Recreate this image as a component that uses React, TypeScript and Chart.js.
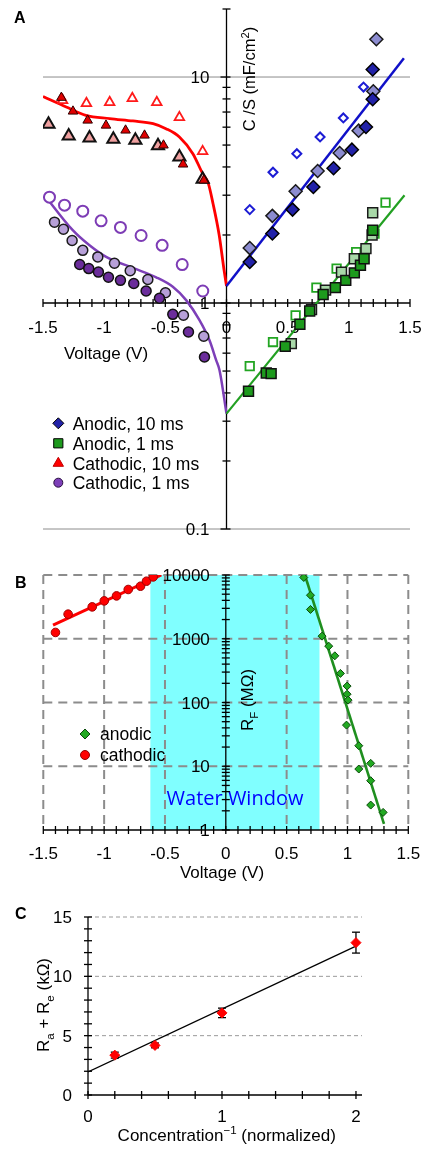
import React, { useEffect, useRef } from 'react';
import { Chart, registerables } from 'chart.js';

Chart.register(...registerables);

const FONT = '"Liberation Sans", Arial, Helvetica, sans-serif';

// ---------------- Panel A : C/S vs voltage ----------------
const A_X_TICKS = [-1.5, -1, -0.5, 0, 0.5, 1, 1.5];
const A_X_LABELS = ['-1.5', '-1', '-0.5', '0', '0.5', '1', '1.5'];
const A_Y_TICKS = [10, 1, 0.1];
const A_Y_LABELS = ['10', '1', '0.1'];
const A_Y_GRID = [10, 0.1];
const A_Y_DECADES = [0.1, 1, 10];

// Anodic, 10 ms (blue diamonds)
const AN10_OPEN_V = [0.19, 0.38, 0.575, 0.765, 0.955, 1.12];
const AN10_OPEN_C = [2.59, 3.79, 4.58, 5.43, 6.59, 9.03];
const AN10_DARK_V = [0.19, 0.375, 0.54, 0.71, 0.875, 1.025, 1.14, 1.195, 1.195];
const AN10_DARK_C = [1.52, 2.03, 2.59, 3.26, 3.95, 4.77, 6.01, 7.97, 10.8];
const AN10_LIGHT_V = [0.19, 0.375, 0.565, 0.745, 0.925, 1.08, 1.2, 1.225];
const AN10_LIGHT_C = [1.75, 2.43, 3.12, 3.84, 4.61, 5.79, 8.65, 14.7];
const AN10_FIT_V = [0, 1.45];
const AN10_FIT_C = [1.19, 12.1];

// Anodic, 1 ms (green squares)
const AN1_OPEN_V = [0.19, 0.38, 0.565, 0.735, 0.9, 1.06, 1.21, 1.3];
const AN1_OPEN_C = [0.526, 0.672, 0.882, 1.17, 1.42, 1.68, 2.03, 2.78];
const AN1_DARK_V = [0.18, 0.325, 0.365, 0.48, 0.6, 0.68, 0.79, 0.89, 0.975, 1.045, 1.095, 1.125, 1.195];
const AN1_DARK_C = [0.407, 0.49, 0.487, 0.643, 0.805, 0.922, 1.09, 1.17, 1.26, 1.36, 1.47, 1.57, 2.1];
const AN1_LIGHT_V = [0.53, 0.695, 0.81, 0.94, 1.045, 1.14, 1.19, 1.195];
const AN1_LIGHT_C = [0.661, 0.935, 1.14, 1.37, 1.57, 1.74, 2.0, 2.51];
const AN1_FIT_V = [0, 1.455];
const AN1_FIT_C = [0.324, 3.0];

// Cathodic, 10 ms (red triangles)
const CA10_OPEN_V = [-1.34, -1.145, -0.955, -0.77, -0.57, -0.385, -0.195];
const CA10_OPEN_C = [7.89, 7.65, 7.73, 8.05, 7.73, 6.63, 4.69];
const CA10_DARK_V = [-1.35, -1.255, -1.135, -0.985, -0.825, -0.67, -0.515, -0.355, -0.185];
const CA10_DARK_C = [8.11, 7.05, 6.43, 6.11, 5.81, 5.52, 4.99, 4.11, 3.49];
const CA10_LIGHT_V = [-1.455, -1.29, -1.12, -0.925, -0.745, -0.56, -0.385, -0.195];
const CA10_LIGHT_C = [6.18, 5.48, 5.37, 5.3, 5.25, 4.97, 4.43, 3.53];
const CA10_FIT_V = [-1.5, -1.31, -1.15, -0.955, -0.765, -0.6, -0.495, -0.385, -0.275, -0.195, -0.15, -0.11, -0.06, -0.02, 0];
const CA10_FIT_C = [8.2, 7.37, 6.77, 6.55, 6.39, 6.22, 5.91, 5.43, 4.58, 3.74, 3.4, 2.75, 2.0, 1.4, 1.19];

// Cathodic, 1 ms (purple circles)
const CA1_OPEN_V = [-1.447, -1.324, -1.175, -1.025, -0.867, -0.698, -0.526, -0.362, -0.194];
const CA1_OPEN_C = [2.94, 2.71, 2.55, 2.31, 2.16, 1.99, 1.8, 1.48, 1.13];
const CA1_DARK_V = [-1.2, -1.126, -1.047, -0.965, -0.867, -0.758, -0.657, -0.548, -0.439, -0.311, -0.18];
const CA1_DARK_C = [1.48, 1.42, 1.37, 1.3, 1.26, 1.22, 1.13, 1.05, 0.891, 0.744, 0.577];
const CA1_LIGHT_V = [-1.406, -1.333, -1.262, -1.175, -1.052, -0.916, -0.787, -0.643, -0.499, -0.352, -0.186];
const CA1_LIGHT_C = [2.28, 2.12, 1.89, 1.71, 1.6, 1.5, 1.39, 1.27, 1.11, 0.883, 0.713];
const CA1_FIT_V = [-1.488, -1.257, -1.12, -0.984, -0.766, -0.575, -0.439, -0.33, -0.221, -0.139, -0.084, -0.057, 0];
const CA1_FIT_C = [3.0, 2.1, 1.8, 1.6, 1.43, 1.3, 1.18, 1.03, 0.84, 0.684, 0.557, 0.504, 0.324];

const A_LEGEND = ['Anodic, 10 ms', 'Anodic, 1 ms', 'Cathodic, 10 ms', 'Cathodic, 1 ms'];

// ---------------- Panel B : R_F vs voltage ----------------
const B_X_TICKS = [-1.5, -1, -0.5, 0, 0.5, 1, 1.5];
const B_X_LABELS = ['-1.5', '-1', '-0.5', '0', '0.5', '1', '1.5'];
const B_Y_TICKS = [10000, 1000, 100, 10, 1];
const B_Y_LABELS = ['10000', '1000', '100', '10', '1'];
const B_Y_DECADES = [1, 10, 100, 1000];
const B_WINDOW = [-0.62, 0.77];

const B_CATH_V = [-1.4, -1.296, -1.098, -0.999, -0.898, -0.802, -0.701, -0.652, -0.597];
const B_CATH_R = [1256, 2430, 3162, 3926, 4700, 5925, 6670, 7990, 9340];
const B_CATH_FIT_V = [-1.42, -0.53];
const B_CATH_FIT_R = [1630, 10000];
const B_AN_V = [0.641, 0.696, 0.696, 0.791, 0.846, 0.896, 0.942, 0.997, 0.997, 1.005, 0.992, 1.093, 1.093, 1.191, 1.191, 1.191, 1.293];
const B_AN_R = [9140, 4820, 2880, 1099, 765, 540, 286, 181, 135, 109, 44.2, 21.0, 9.04, 11.1, 5.93, 2.46, 1.89];
const B_AN_FIT_V = [0.65, 1.3];
const B_AN_FIT_R = [10000, 1.25];
const B_LEGEND = ['anodic', 'cathodic'];

// ---------------- Panel C : Ra + Re vs 1/concentration ----------------
const C_X_TICKS = [0, 1, 2];
const C_X_LABELS = ['0', '1', '2'];
const C_Y_TICKS = [0, 5, 10, 15];
const C_Y_LABELS = ['0', '5', '10', '15'];
const C_Y_GRID = [5, 10, 15];
const C_X = [0.2, 0.5, 1, 2];
const C_Y = [3.36, 4.18, 6.92, 12.84];
const C_ERR = [0.25, 0.2, 0.4, 0.88];
const C_FIT_X = [0, 2];
const C_FIT_Y = [1.95, 12.55];

// ---------------- helpers ----------------
type Part = [string, number]; // 0 normal, 1 subscript, 2 superscript

function pts(xs: number[], ys: number[]) {
  return xs.map((x, i) => ({ x, y: ys[i] }));
}

function markers(label: string, xs: number[], ys: number[], style: string, r: number, fill: string, stroke: string, lw: number) {
  return {
    label,
    data: pts(xs, ys),
    showLine: false,
    pointStyle: style,
    pointRadius: r,
    pointBackgroundColor: fill,
    pointBorderColor: stroke,
    pointBorderWidth: lw,
    backgroundColor: fill,
    borderColor: stroke,
    order: 1,
  };
}

function curve(label: string, xs: number[], ys: number[], color: string, width: number, smooth: boolean) {
  return {
    label,
    data: pts(xs, ys),
    showLine: true,
    pointRadius: 0,
    borderColor: color,
    backgroundColor: color,
    borderWidth: width,
    tension: smooth ? 0.4 : 0,
    cubicInterpolationMode: smooth ? 'monotone' : 'default',
    fill: false,
    order: 5,
  };
}

function seg(ctx: CanvasRenderingContext2D, x1: number, y1: number, x2: number, y2: number) {
  ctx.beginPath();
  ctx.moveTo(x1, y1);
  ctx.lineTo(x2, y2);
  ctx.stroke();
}

function text(ctx: CanvasRenderingContext2D, s: string, x: number, y: number, align: CanvasTextAlign, size: number, color = '#000', family = FONT, weight = '') {
  ctx.save();
  ctx.font = `${weight}${size}px ${family}`;
  ctx.fillStyle = color;
  ctx.textAlign = align;
  ctx.textBaseline = 'alphabetic';
  ctx.fillText(s, x, y + size * 0.36);
  ctx.restore();
}

function rich(ctx: CanvasRenderingContext2D, parts: Part[], cx: number, cy: number, size: number, rot = 0) {
  ctx.save();
  ctx.translate(cx, cy);
  if (rot) ctx.rotate(rot);
  ctx.fillStyle = '#000';
  ctx.textAlign = 'left';
  ctx.textBaseline = 'alphabetic';
  const widths = parts.map(([t, k]) => {
    ctx.font = `${k ? size * 0.68 : size}px ${FONT}`;
    return ctx.measureText(t).width;
  });
  const total = widths.reduce((a, b) => a + b, 0);
  let x = -total / 2;
  const base = size * 0.36;
  parts.forEach(([t, k], i) => {
    ctx.font = `${k ? size * 0.68 : size}px ${FONT}`;
    const dy = k === 1 ? size * 0.28 : k === 2 ? -size * 0.4 : 0;
    ctx.fillText(t, x, base + dy);
    x += widths[i];
  });
  ctx.restore();
}

function marker(ctx: CanvasRenderingContext2D, style: string, cx: number, cy: number, r: number, fill: string, stroke: string, lw: number) {
  ctx.save();
  ctx.beginPath();
  if (style === 'rectRot') {
    ctx.moveTo(cx, cy - r);
    ctx.lineTo(cx + r, cy);
    ctx.lineTo(cx, cy + r);
    ctx.lineTo(cx - r, cy);
    ctx.closePath();
  } else if (style === 'rect') {
    const s = r * Math.SQRT1_2;
    ctx.rect(cx - s, cy - s, 2 * s, 2 * s);
  } else if (style === 'triangle') {
    ctx.moveTo(cx, cy - r);
    ctx.lineTo(cx + r * 0.866, cy + r * 0.5);
    ctx.lineTo(cx - r * 0.866, cy + r * 0.5);
    ctx.closePath();
  } else {
    ctx.arc(cx, cy, r, 0, Math.PI * 2);
  }
  ctx.fillStyle = fill;
  ctx.fill();
  ctx.lineWidth = lw;
  ctx.strokeStyle = stroke;
  ctx.stroke();
  ctx.restore();
}

function logTicks(decades: number[], max: number) {
  const out: { v: number; major: boolean }[] = [];
  decades.forEach((d) => {
    for (let k = 1; k <= 9; k++) {
      const v = d * k;
      if (v <= max * 1.0001) out.push({ v, major: k === 1 });
    }
  });
  out.push({ v: decades[decades.length - 1] * 10, major: true });
  return out.filter((t) => t.v <= max * 1.0001);
}

function baseOptions(padding: any, xScale: any, yScale: any) {
  return {
    responsive: false,
    maintainAspectRatio: false,
    animation: false,
    events: [],
    layout: { padding },
    plugins: { legend: { display: false }, tooltip: { enabled: false } },
    scales: { x: { ...xScale, display: false }, y: { ...yScale, display: false } },
  };
}

// ---------------- plugins ----------------
const panelAPlugin = {
  id: 'panelA',
  beforeDatasetsDraw(chart: any) {
    const { ctx, chartArea: ca, scales } = chart;
    const x = scales.x;
    const y = scales.y;
    ctx.save();
    ctx.strokeStyle = '#8c8c8c';
    ctx.lineWidth = 1;
    A_Y_GRID.forEach((v) => {
      const py = y.getPixelForValue(v);
      seg(ctx, ca.left, py, ca.right, py);
    });
    const x0 = x.getPixelForValue(0);
    const y1 = y.getPixelForValue(1);
    ctx.strokeStyle = '#000';
    ctx.lineWidth = 1.3;
    seg(ctx, x0, ca.top, x0, ca.bottom);
    seg(ctx, ca.left, y1, ca.right, y1);
    logTicks(A_Y_DECADES, y.max).forEach((t) => {
      const py = y.getPixelForValue(t.v);
      seg(ctx, x0 - (t.major ? 6 : 4), py, x0 + 4, py);
    });
    for (let i = Math.round(x.min * 10); i <= Math.round(x.max * 10); i++) {
      const px = x.getPixelForValue(i / 10);
      seg(ctx, px, y1 - 4, px, y1 + 4);
    }
    A_Y_TICKS.forEach((v, i) => text(ctx, A_Y_LABELS[i], x0 - 17, y.getPixelForValue(v), 'right', 17));
    A_X_TICKS.forEach((v, i) => text(ctx, A_X_LABELS[i], x.getPixelForValue(v), y1 + 24, 'center', 17));
    text(ctx, 'Voltage (V)', 106, y1 + 50, 'center', 17);
    rich(ctx, [['C /S (mF/cm', 0], ['2', 2], [')', 0]], x0 + 23, y.getPixelForValue(10) + 2, 16.5, -Math.PI / 2);
    ctx.restore();
  },
  afterDraw(chart: any) {
    const { ctx } = chart;
    text(ctx, 'A', 14, 22.7 - 16 * 0.36, 'left', 16, '#000', FONT, 'bold ');
    const lx = 58.3;
    const ys = [423.3, 443.3, 463.3, 482.7];
    marker(ctx, 'rectRot', lx, ys[0], 5.5, '#2222a8', '#000', 1);
    marker(ctx, 'rect', lx, ys[1], 6.5, '#1d9a1d', '#000', 1);
    marker(ctx, 'triangle', lx, ys[2], 6, '#ff0000', '#c00000', 1);
    marker(ctx, 'circle', lx, ys[3], 4.5, '#7d3fb8', '#2a1040', 1);
    A_LEGEND.forEach((s, i) => text(ctx, s, 72.7, ys[i], 'left', 17.5));
  },
};

const panelBPlugin = {
  id: 'panelB',
  beforeDraw(chart: any) {
    const { ctx, chartArea: ca, scales } = chart;
    const x = scales.x;
    ctx.save();
    ctx.fillStyle = '#80ffff';
    const l = x.getPixelForValue(B_WINDOW[0]);
    const r = x.getPixelForValue(B_WINDOW[1]);
    ctx.fillRect(l, ca.top, r - l, ca.bottom - ca.top);
    ctx.restore();
  },
  beforeDatasetsDraw(chart: any) {
    const { ctx, chartArea: ca, scales } = chart;
    const x = scales.x;
    const y = scales.y;
    ctx.save();
    text(ctx, 'Water Window', 235, 238, 'center', 20, '#0000ff', '"Open Sans", "Noto Sans", sans-serif');
    ctx.strokeStyle = '#8c8c8c';
    ctx.lineWidth = 2;
    ctx.setLineDash([9, 6]);
    B_X_TICKS.forEach((v) => {
      if (v === 0) return;
      const px = x.getPixelForValue(v);
      seg(ctx, px, ca.top, px, ca.bottom);
    });
    B_Y_TICKS.forEach((v) => {
      if (v === 1) return;
      const py = y.getPixelForValue(v);
      seg(ctx, ca.left, py, ca.right, py);
    });
    ctx.setLineDash([]);
    const x0 = x.getPixelForValue(0);
    const y1 = y.getPixelForValue(1);
    ctx.strokeStyle = '#000';
    ctx.lineWidth = 1.3;
    seg(ctx, x0, ca.top, x0, ca.bottom);
    seg(ctx, ca.left, y1, ca.right, y1);
    logTicks(B_Y_DECADES, y.max).forEach((t) => {
      const py = y.getPixelForValue(t.v);
      seg(ctx, x0 - 4, py, x0 + 4, py);
    });
    for (let i = Math.round(x.min * 10); i <= Math.round(x.max * 10); i++) {
      const px = x.getPixelForValue(i / 10);
      seg(ctx, px, y1 - 4, px, y1 + 4);
    }
    B_Y_TICKS.forEach((v, i) => text(ctx, B_Y_LABELS[i], x0 - 16, y.getPixelForValue(v), 'right', 17));
    B_X_TICKS.forEach((v, i) => text(ctx, B_X_LABELS[i], x.getPixelForValue(v), y1 + 23, 'center', 17));
    text(ctx, 'Voltage (V)', 222, y1 + 42, 'center', 17);
    rich(ctx, [['R', 0], ['F', 1], [' (M\u03A9)', 0]], x0 + 21, 140, 17, -Math.PI / 2);
    ctx.restore();
  },
  afterDraw(chart: any) {
    const { ctx } = chart;
    text(ctx, 'B', 15, 28.3 - 16 * 0.36, 'left', 16, '#000', FONT, 'bold ');
    marker(ctx, 'rectRot', 85, 174, 5, '#22aa22', '#0a4a0a', 1);
    marker(ctx, 'circle', 85, 195, 4.5, '#ff0000', '#900000', 1);
    text(ctx, B_LEGEND[0], 100, 174, 'left', 17.5);
    text(ctx, B_LEGEND[1], 100, 195, 'left', 17.5);
  },
};

const panelCPlugin = {
  id: 'panelC',
  beforeDatasetsDraw(chart: any) {
    const { ctx, chartArea: ca, scales } = chart;
    const x = scales.x;
    const y = scales.y;
    ctx.save();
    ctx.strokeStyle = '#9a9a9a';
    ctx.lineWidth = 1;
    ctx.setLineDash([4, 3]);
    C_Y_GRID.forEach((v) => {
      const py = y.getPixelForValue(v);
      seg(ctx, ca.left, py, ca.right, py);
    });
    ctx.setLineDash([]);
    const x0 = x.getPixelForValue(0);
    const y0 = y.getPixelForValue(0);
    ctx.strokeStyle = '#000';
    ctx.lineWidth = 1.3;
    seg(ctx, x0, ca.top, x0, ca.bottom);
    seg(ctx, ca.left, y0, ca.right, y0);
    for (let v = 0; v <= 15; v++) {
      const py = y.getPixelForValue(v);
      seg(ctx, x0 - 4, py, x0 + 4, py);
    }
    for (let i = 0; i <= 10; i++) {
      const px = x.getPixelForValue(i * 0.2);
      seg(ctx, px, y0 - 4, px, y0 + 4);
    }
    C_Y_TICKS.forEach((v, i) => text(ctx, C_Y_LABELS[i], 72, y.getPixelForValue(v), 'right', 17));
    C_X_TICKS.forEach((v, i) => text(ctx, C_X_LABELS[i], x.getPixelForValue(v), y0 + 20.5, 'center', 17));
    rich(ctx, [['Concentration', 0], ['\u22121', 2], [' (normalized)', 0]], 226.7, 245, 17);
    rich(ctx, [['R', 0], ['a', 1], [' + R', 0], ['e', 1], [' (k\u03A9)', 0]], 43.3, 115, 17, -Math.PI / 2);
    // error bars
    ctx.lineWidth = 1.3;
    C_X.forEach((v, i) => {
      const px = x.getPixelForValue(v);
      const top = y.getPixelForValue(C_Y[i] + C_ERR[i]);
      const bot = y.getPixelForValue(C_Y[i] - C_ERR[i]);
      seg(ctx, px, top, px, bot);
      seg(ctx, px - 4, top, px + 4, top);
      seg(ctx, px - 4, bot, px + 4, bot);
    });
    ctx.restore();
  },
  afterDraw(chart: any) {
    text(chart.ctx, 'C', 15, 29 - 16 * 0.36, 'left', 16, '#000', FONT, 'bold ');
  },
};

export default function App() {
  const refA = useRef<HTMLCanvasElement>(null);
  const refB = useRef<HTMLCanvasElement>(null);
  const refC = useRef<HTMLCanvasElement>(null);

  useEffect(() => {
    const chartA = new Chart(refA.current as HTMLCanvasElement, {
      type: 'scatter',
      data: {
        datasets: [
          markers('Anodic, 10 ms (a)', AN10_DARK_V, AN10_DARK_C, 'rectRot', 6.5, '#2222a8', '#000', 1.5),
          markers('Anodic, 10 ms (b)', AN10_LIGHT_V, AN10_LIGHT_C, 'rectRot', 6.5, '#8c8cd0', '#1a1a1a', 1.5),
          markers('Anodic, 10 ms (c)', AN10_OPEN_V, AN10_OPEN_C, 'rectRot', 4.5, '#ffffff', '#1c1cd4', 2),
          markers('Anodic, 1 ms (a)', AN1_DARK_V, AN1_DARK_C, 'rect', 7, '#1d9a1d', '#111', 1.5),
          markers('Anodic, 1 ms (b)', AN1_LIGHT_V, AN1_LIGHT_C, 'rect', 7, '#a8d8a8', '#1a1a1a', 1.5),
          markers('Anodic, 1 ms (c)', AN1_OPEN_V, AN1_OPEN_C, 'rect', 6, '#ffffff', '#22a522', 1.8),
          markers('Cathodic, 10 ms (a)', CA10_DARK_V, CA10_DARK_C, 'triangle', 5.5, '#e00000', '#300000', 1),
          markers('Cathodic, 10 ms (b)', CA10_LIGHT_V, CA10_LIGHT_C, 'triangle', 7, '#f0a0a0', '#111', 2),
          markers('Cathodic, 10 ms (c)', CA10_OPEN_V, CA10_OPEN_C, 'triangle', 5.5, '#ffffff', '#ff1a1a', 1.8),
          markers('Cathodic, 1 ms (a)', CA1_DARK_V, CA1_DARK_C, 'circle', 5, '#6b2d9b', '#111', 1.5),
          markers('Cathodic, 1 ms (b)', CA1_LIGHT_V, CA1_LIGHT_C, 'circle', 5, '#b7a0d8', '#1a1a1a', 1.5),
          markers('Cathodic, 1 ms (c)', CA1_OPEN_V, CA1_OPEN_C, 'circle', 5.5, '#ffffff', '#7d3cb5', 2),
          curve('Anodic 10 ms fit', AN10_FIT_V, AN10_FIT_C, '#1010c8', 2.5, false),
          curve('Anodic 1 ms fit', AN1_FIT_V, AN1_FIT_C, '#22a022', 2.2, false),
          curve('Cathodic 10 ms fit', CA10_FIT_V, CA10_FIT_C, '#ff0000', 2.8, true),
          curve('Cathodic 1 ms fit', CA1_FIT_V, CA1_FIT_C, '#7d3fb8', 2.5, true),
        ],
      },
      options: baseOptions(
        { left: 43, right: 12, top: 9, bottom: 31 },
        { type: 'linear', min: -1.5, max: 1.5 },
        { type: 'logarithmic', min: 0.1, max: 20 }
      ) as any,
      plugins: [panelAPlugin as any],
    } as any);

    const chartB = new Chart(refB.current as HTMLCanvasElement, {
      type: 'scatter',
      data: {
        datasets: [
          markers('cathodic', B_CATH_V, B_CATH_R, 'circle', 4.3, '#ff0000', '#a00000', 1),
          markers('anodic', B_AN_V, B_AN_R, 'rectRot', 4, '#22aa22', '#0a4a0a', 1),
          curve('cathodic fit', B_CATH_FIT_V, B_CATH_FIT_R, '#ff0000', 3, false),
          curve('anodic fit', B_AN_FIT_V, B_AN_FIT_R, '#1f8f1f', 2.6, false),
        ],
      },
      options: baseOptions(
        { left: 43.3, right: 13.7, top: 15, bottom: 60 },
        { type: 'linear', min: -1.5, max: 1.5 },
        { type: 'logarithmic', min: 1, max: 10000 }
      ) as any,
      plugins: [panelBPlugin as any],
    } as any);

    const chartC = new Chart(refC.current as HTMLCanvasElement, {
      type: 'scatter',
      data: {
        datasets: [
          markers('Ra + Re', C_X, C_Y, 'rectRot', 5, '#ff0000', '#ff0000', 1),
          curve('fit', C_FIT_X, C_FIT_Y, '#000000', 1.3, false),
        ],
      },
      options: baseOptions(
        { left: 88, right: 60, top: 27, bottom: 56 },
        { type: 'linear', min: 0, max: 2.045 },
        { type: 'linear', min: 0, max: 15 }
      ) as any,
      plugins: [panelCPlugin as any],
    } as any);

    return () => {
      chartA.destroy();
      chartB.destroy();
      chartC.destroy();
    };
  }, []);

  const cv = (top: number, h: number): React.CSSProperties => ({
    position: 'absolute',
    left: 0,
    top,
    width: 422,
    height: h,
    display: 'block',
  });

  return (
    <div style={{ position: 'absolute', left: 0, top: 0, width: 422, height: 1151, background: '#fff', overflow: 'hidden' }}>
      <canvas ref={refA} width={422} height={560} style={cv(0, 560)} />
      <canvas ref={refB} width={422} height={330} style={cv(560, 330)} />
      <canvas ref={refC} width={422} height={261} style={cv(890, 261)} />
    </div>
  );
}
